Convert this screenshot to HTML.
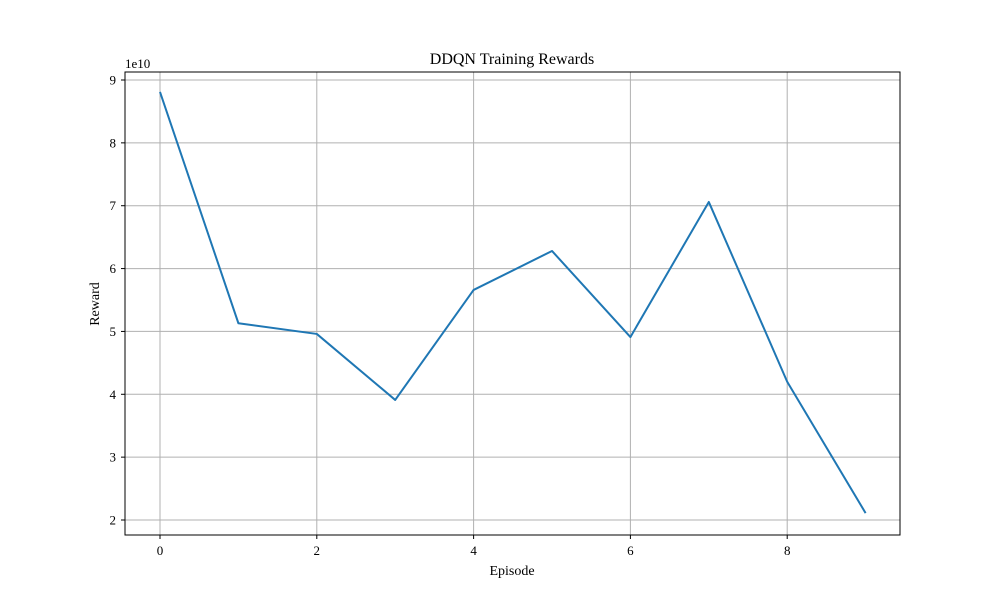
<!DOCTYPE html>
<html><head><meta charset="utf-8"><style>
html,body{margin:0;padding:0;background:#fff;}
svg{display:block;font-family:"Liberation Serif","DejaVu Serif",serif;}
</style></head><body>
<svg id="chart" width="1000" height="600" viewBox="0 0 1000 600">
<rect width="1000" height="600" fill="#fff"/>
<g id="grid"></g>
<g id="ticks"></g>
<polyline id="line" fill="none" stroke="#1f77b4" stroke-width="2" stroke-linejoin="round"/>
<rect x="125" y="72" width="775" height="463" fill="none" stroke="#000" stroke-width="1"/>
<text x="512" y="64" font-size="16" text-anchor="middle">DDQN Training Rewards</text>
<text x="512" y="575" font-size="14" text-anchor="middle">Episode</text>
<text x="99" y="304" font-size="14" text-anchor="middle" transform="rotate(-90 99 304)">Reward</text>
<text x="125" y="68" font-size="13">1e10</text>
</svg>
<script>
const episodes=[0,1,2,3,4,5,6,7,8,9];
const rewards=[8.81,5.13,4.96,3.91,5.66,6.28,4.91,7.06,4.20,2.11];
const xTicks=[0,2,4,6,8];
const yTicks=[2,3,4,5,6,7,8,9];
const NS="http://www.w3.org/2000/svg";
function xs(v){return 160+v*78.4;}
function ys(v){return 520-(v-2)*62.857;}
const grid=document.getElementById('grid'),ticks=document.getElementById('ticks');
function mk(tag,attrs,parent){const e=document.createElementNS(NS,tag);for(const k in attrs)e.setAttribute(k,attrs[k]);parent.appendChild(e);return e;}
xTicks.forEach(t=>{
 const x=xs(t);
 const g=mk('line',{x1:x,x2:x,y1:72,y2:535,stroke:'#b0b0b0','stroke-width':1},grid);
 
 
 mk('line',{x1:x,x2:x,y1:535,y2:539,stroke:'#000'},ticks);
 const tx=mk('text',{x:x,y:555,'font-size':13,'text-anchor':'middle'},ticks);
 tx.textContent=t;
 
 
});
yTicks.forEach(t=>{
 const y=ys(t);
 const g=mk('line',{x1:125,x2:900,y1:y,y2:y,stroke:'#b0b0b0','stroke-width':1},grid);
 
 
 mk('line',{x1:121,x2:125,y1:y,y2:y,stroke:'#000'},ticks);
 const tx=mk('text',{x:116,y:y+4.5,'font-size':13,'text-anchor':'end'},ticks);
 tx.textContent=t;
 
 
});
document.getElementById('line').setAttribute('points',episodes.map((e,i)=>xs(e)+','+ys(rewards[i])).join(' '));
</script>
</body></html>
